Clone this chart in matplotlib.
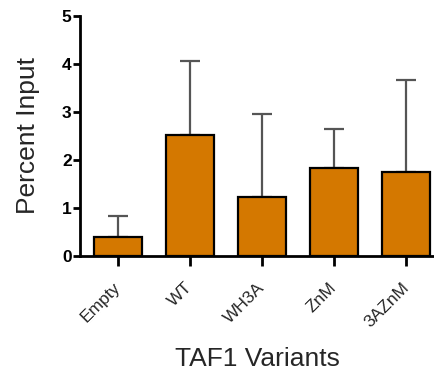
import matplotlib
matplotlib.use("Agg")
import matplotlib.pyplot as plt

categories = ["Empty", "WT", "WH3A", "ZnM", "3AZnM"]
means = [0.39, 2.52, 1.23, 1.83, 1.74]
upper_err = [0.45, 1.54, 1.72, 0.82, 1.93]
yticks = [0, 1, 2, 3, 4, 5]

LABEL_FONT = dict(family="Liberation Sans", fontweight="normal", color="#262626")

fig = plt.figure(figsize=(4.35, 3.73), dpi=100)
ax = fig.add_axes([80 / 435, 1 - 256 / 373, 355 / 435, 240 / 373])

x = list(range(len(categories)))
ax.bar(x, means, width=0.667, color="#D47800", edgecolor="black", linewidth=1.6, zorder=2)
ax.errorbar(x, means, yerr=[[0] * len(means), upper_err], fmt="none",
            ecolor="#555555", elinewidth=1.6, capsize=7, capthick=1.6, zorder=1)

ax.set_xlim(-0.53, 4.4)
ax.set_ylim(0, 5)
ax.set_yticks(yticks)
ax.set_yticklabels([str(t) for t in yticks], fontsize=12.5, fontweight="bold",
                   family="Liberation Sans")
ax.set_xticks(x)
ax.set_xticklabels(categories, rotation=45, ha="right", rotation_mode="anchor",
                   fontsize=12.5, **LABEL_FONT)
for lbl in ax.get_xticklabels():
    lbl.set_va("center")

for side in ["top", "right"]:
    ax.spines[side].set_visible(False)
for side in ["left", "bottom"]:
    ax.spines[side].set_linewidth(2)
ax.tick_params(axis="y", length=5, width=2, pad=1)
ax.tick_params(axis="x", length=7, width=2, pad=14)

ax.set_ylabel("Percent Input", fontsize=19, labelpad=16, **LABEL_FONT)
ax.set_xlabel("TAF1 Variants", fontsize=19, labelpad=12, **LABEL_FONT)

fig.savefig("out.png", dpi=100)
